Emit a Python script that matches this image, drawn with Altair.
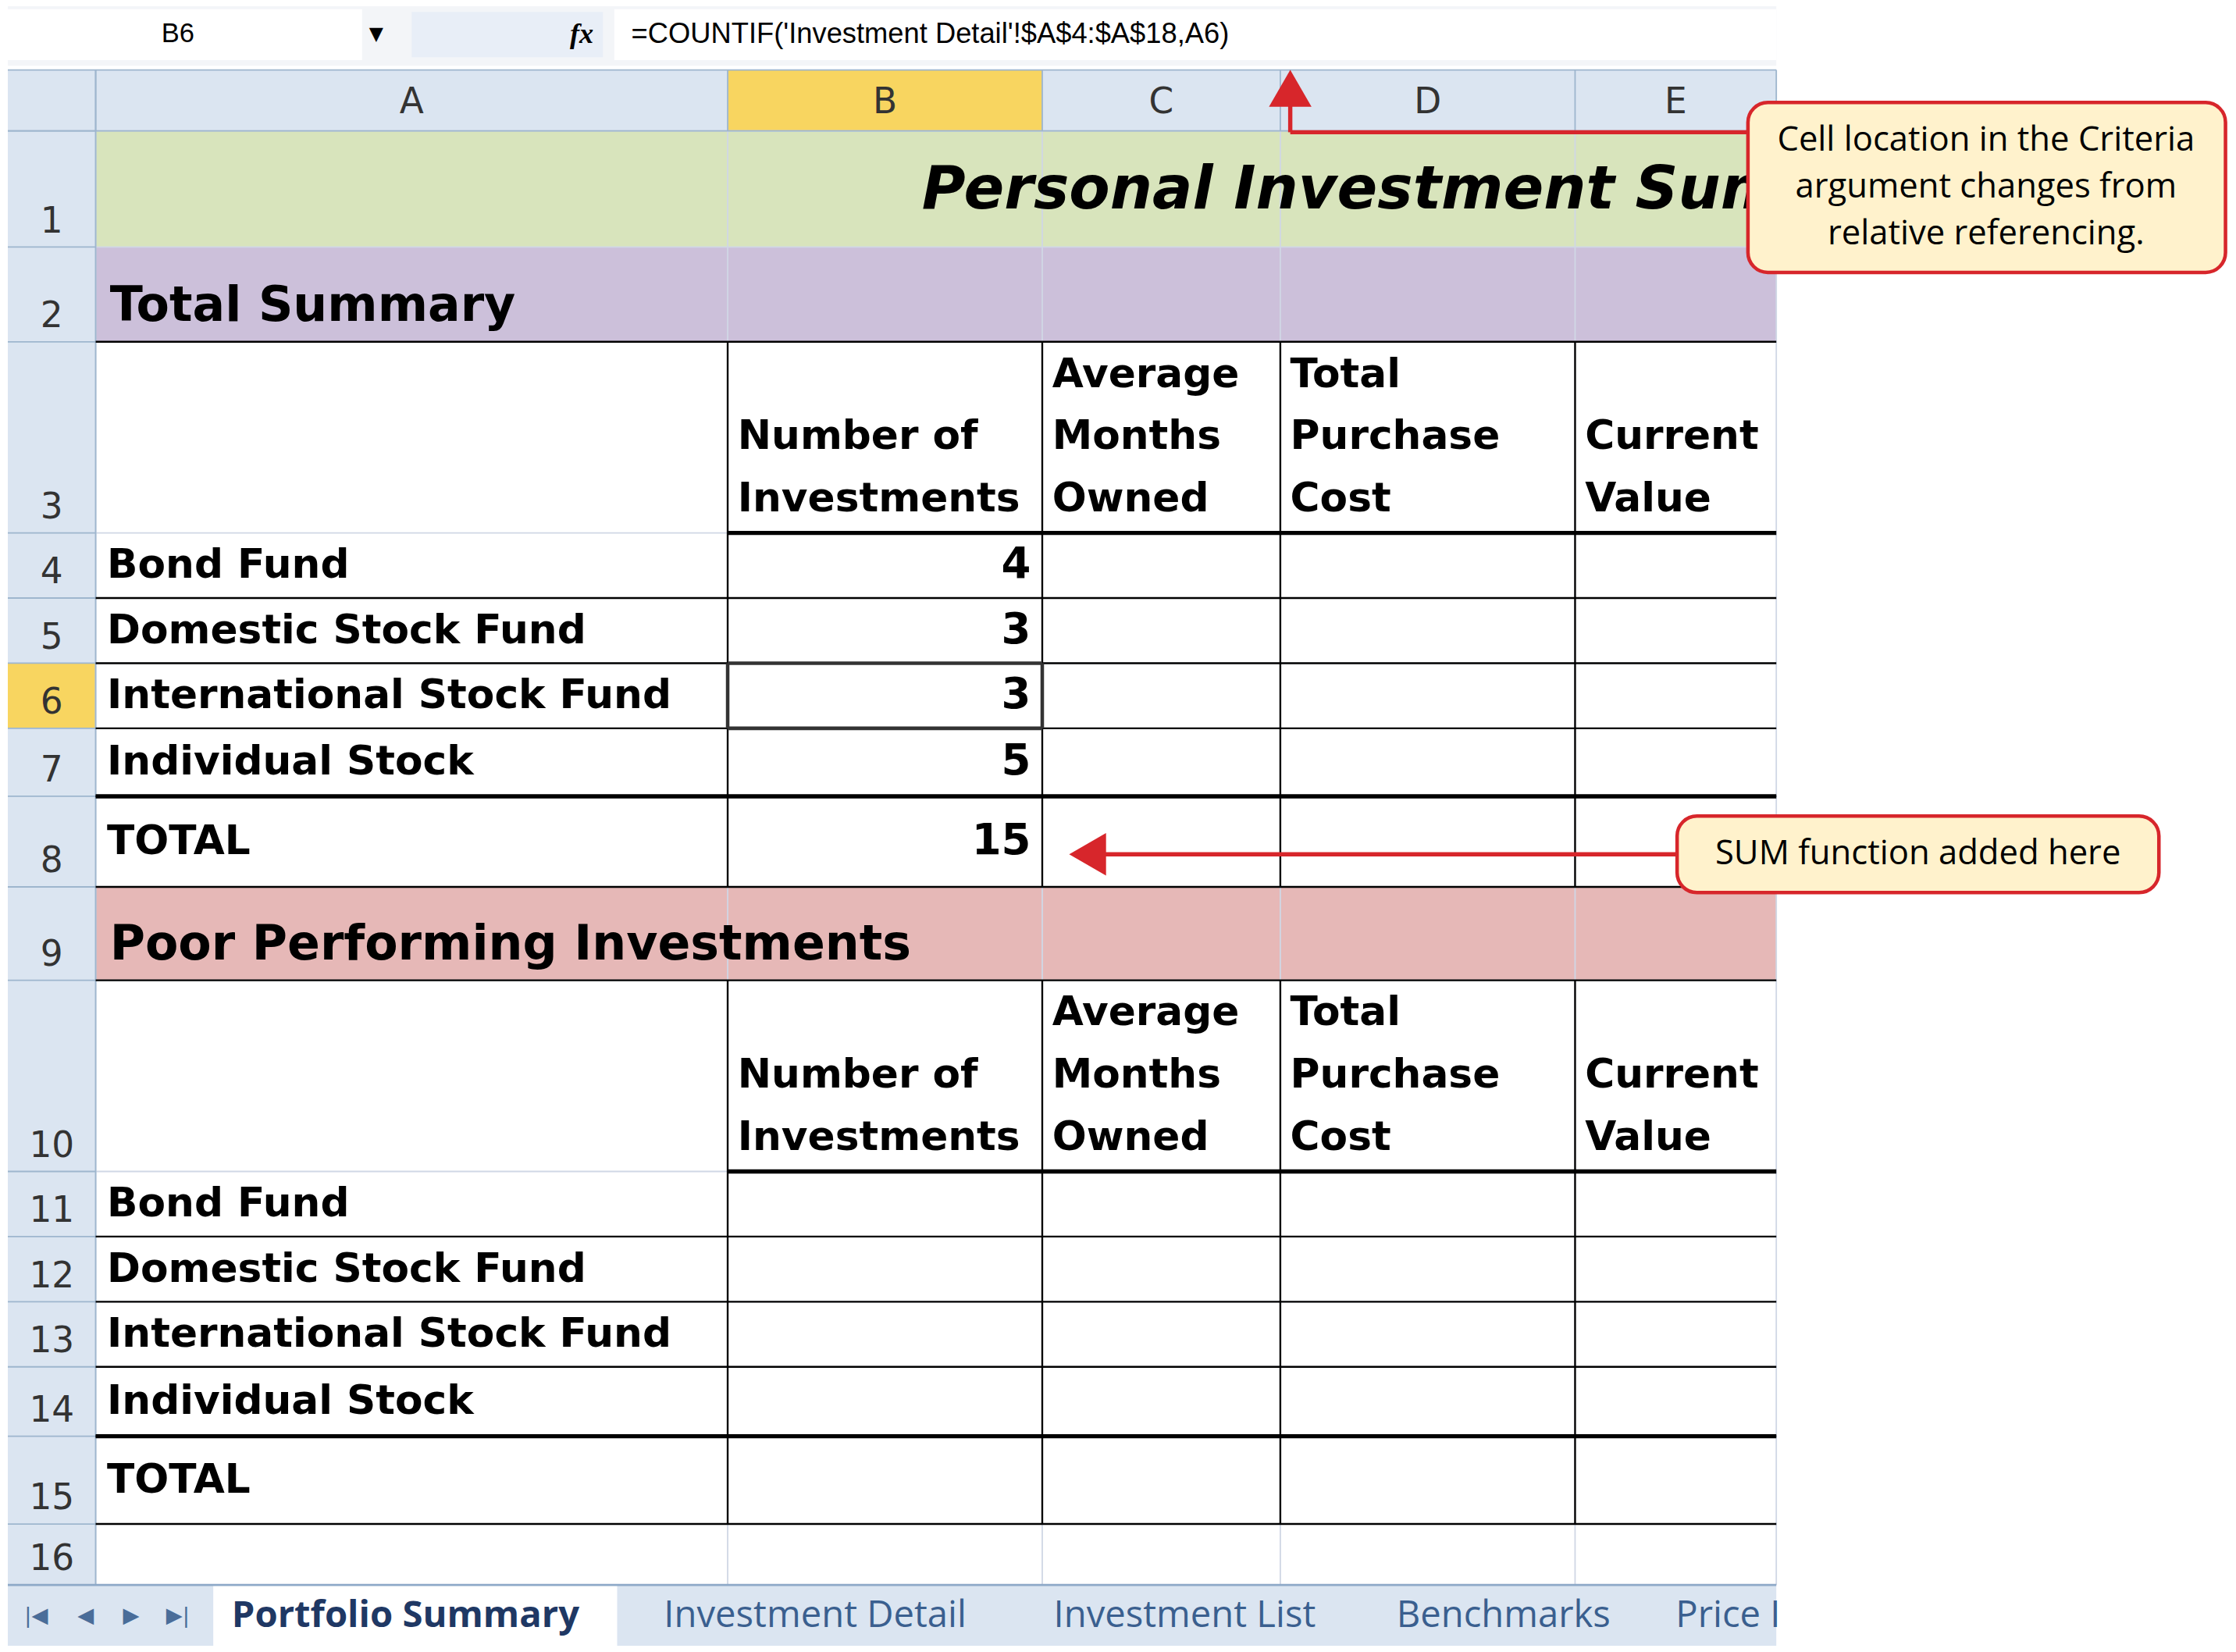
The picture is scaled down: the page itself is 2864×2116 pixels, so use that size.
import pandas as pd
import altair as alt

# reference is laid out on a 1568 x 1158 grid, drawn into 2848 x 2100
W, H = 1568, 1158
F = 2848 / W

col_letters = ["A", "B", "C", "D", "E"]
col_edges = [62, 508, 730, 898, 1106, 1248]
row_nums = list(range(1, 17))
row_edges = [88, 170, 237, 372, 418, 464, 510, 558, 622, 688, 823, 869, 915, 961, 1010, 1072, 1115]

categories = ["Bond Fund", "Domestic Stock Fund", "International Stock Fund", "Individual Stock"]
num_investments = [4, 3, 3, 5]
total_investments = 15
col_heads = {
    "B": ["Number of", "Investments"],
    "C": ["Average", "Months", "Owned"],
    "D": ["Total", "Purchase", "Cost"],
    "E": ["Current", "Value"],
}
tabs = ["Portfolio Summary", "Investment Detail", "Investment List", "Benchmarks", "Price I"]
tab_x = [158, 463, 738, 980, 1177]
formula = "=COUNTIF('Investment Detail'!$A$4:$A$18,A6)"
callout1 = ["Cell location in the Criteria", "argument changes from", "relative referencing."]
callout2 = "SUM function added here"

xs = alt.Scale(domain=[0, W], nice=False, zero=False)
ys = alt.Scale(domain=[H, 0], nice=False, zero=False)


def rects(rows, **kw):
    df = pd.DataFrame(rows, columns=["x", "x2", "y", "y2", "fill"])
    return alt.Chart(df).mark_rect(**kw).encode(
        x=alt.X("x:Q", scale=xs, axis=None), x2="x2:Q",
        y=alt.Y("y:Q", scale=ys, axis=None), y2="y2:Q",
        color=alt.Color("fill:N", scale=None))


def lines(rows, width, color):
    df = pd.DataFrame(rows, columns=["x", "x2", "y", "y2"])
    return alt.Chart(df).mark_rule(strokeWidth=width * F, color=color).encode(
        x=alt.X("x:Q", scale=xs, axis=None), x2="x2:Q",
        y=alt.Y("y:Q", scale=ys, axis=None), y2="y2:Q")


def texts(rows, size, font="DejaVu Sans", weight="normal", align="left", color="black", style="normal"):
    df = pd.DataFrame(rows, columns=["x", "y", "t"])
    return alt.Chart(df).mark_text(fontSize=size * F, font=font, fontWeight=weight, align=align,
                                   baseline="middle", color=color, fontStyle=style).encode(
        x=alt.X("x:Q", scale=xs, axis=None), y=alt.Y("y:Q", scale=ys, axis=None), text="t:N")


layers = []

# backgrounds
bg = [(0, W, 0, H, "white"),
      (0, 1248, 0, 42, "#f3f5f8"),
      (0, 1248, 45, 88, "#dbe5f1"),
      (0, 62, 45, 1115, "#dbe5f1"),
      (col_edges[1], col_edges[2], 45, 88, "#f8d560"),
      (0, 62, row_edges[5], row_edges[6], "#f8d560"),
      (62, 1248, row_edges[0], row_edges[1], "#d8e4bc"),
      (62, 1248, row_edges[1], row_edges[2], "#ccc0da"),
      (62, 1248, row_edges[8], row_edges[9], "#e6b8b7"),
      (0, 1248, 1115, 1158, "#dbe5f1"),
      (145, 430, 1115, 1158, "white"),
      (0, 250, 2, 38, "white"),
      (285, 420, 4, 36, "#e8eef7"),
      (428, 1248, 2, 38, "white")]
layers.append(rects(bg))

# light gridlines
grid_h = [(62, 1248, y, y) for y in row_edges]
grid_v = [(x, x, 88, 1115) for x in col_edges]
layers.append(lines(grid_h + grid_v, 1, "#d0d7e5"))
hdr = [(0, 1248, 45, 45), (0, 1248, 88, 88), (62, 62, 45, 1115)]
hdr += [(x, x, 45, 88) for x in col_edges]
hdr += [(0, 62, y, y) for y in row_edges]
layers.append(lines(hdr, 1, "#9eb6ce"))

# table borders
thin, thick = [], []
for top in (2, 9):
    t0 = row_edges[top]
    ends = row_edges[top + 6]
    for x in col_edges[1:5]:
        thin.append((x, x, t0, ends))
    for i in range(4):
        thin.append((62, 1248, row_edges[top + 2 + i], row_edges[top + 2 + i]))
    thick.append((508, 1248, row_edges[top + 1], row_edges[top + 1]))
    thick.append((62, 1248, row_edges[top + 5], row_edges[top + 5]))
    thin.append((62, 1248, ends, ends))
    thin.append((62, 1248, t0, t0))
layers.append(lines(thin, 1.3, "black"))
layers.append(lines(thick, 3, "black"))
# selected cell B6
layers.append(lines([(508, 730, 464, 464), (508, 730, 510, 510), (508, 508, 464, 510), (730, 730, 464, 510)], 2.5, "#333"))

# header letters and row numbers
layers.append(texts([((col_edges[i] + col_edges[i + 1]) / 2, 68, c) for i, c in enumerate(col_letters)],
                    25, align="center", color="#333"))
layers.append(texts([(31, row_edges[i + 1] - 18, str(n)) for i, n in enumerate(row_nums)],
                    25, align="center", color="#333"))

# title and section headers
layers.append(texts([(645, 130, "Personal Investment Summary")], 42, weight="bold", style="italic"))
layers.append(texts([(72, 212, "Total Summary"), (72, 663, "Poor Performing Investments")], 34, weight="bold"))

body = []
for top in (2, 9):
    hb = row_edges[top + 1]
    for i, key in enumerate(["B", "C", "D", "E"]):
        ln = col_heads[key]
        for j, s in enumerate(ln):
            body.append((col_edges[i + 1] + 7, hb + 44 * (j - len(ln)) + 20, s))
    for i, c in enumerate(categories):
        body.append((70, (row_edges[top + 1 + i] + row_edges[top + 2 + i]) / 2, c))
    body.append((70, (row_edges[top + 5] + row_edges[top + 6]) / 2, "TOTAL"))
layers.append(texts(body, 28.5, weight="bold"))
nums = [(722, (row_edges[3 + i] + row_edges[4 + i]) / 2, str(v)) for i, v in enumerate(num_investments)]
nums.append((722, (row_edges[7] + row_edges[8]) / 2, str(total_investments)))
layers.append(texts(nums, 30, weight="bold", align="right"))

# formula bar
layers.append(texts([(120, 20, "B6")], 19, font="Liberation Sans", align="center"))
layers.append(texts([(260, 20, "▼")], 13, align="center"))
layers.append(texts([(405, 20, "fx")], 20, font="Liberation Serif", style="italic", weight="bold", align="center"))
layers.append(texts([(440, 20, formula)], 20, font="Liberation Sans"))

# tabs
layers.append(lines([(0, 1248, 1115, 1115)], 1.5, "#8ea9c8"))
layers.append(texts([(tab_x[0], 1137, tabs[0])], 26, font="Open Sans", weight="bold", color="#1f3864"))
layers.append(texts([(x, 1137, t) for x, t in zip(tab_x[1:], tabs[1:])], 26, font="Open Sans", color="#3a5f8f"))
layers.append(texts([(20, 1137, "|◀"), (55, 1137, "◀"), (87, 1137, "▶"), (120, 1137, "▶|")], 15,
                    align="center", color="#4a6d99"))

# arrows
red = "#d7262b"
layers.append(lines([(905, 1228, 89, 89), (905, 905, 60, 89), (770, 1178, 599, 599)], 3, red))
arr = pd.DataFrame({"x": [905, 762], "y": [58, 599], "s": ["triangle-up", "triangle-left"]})
layers.append(alt.Chart(arr).mark_point(filled=True, opacity=1, color=red, size=900 * F * F).encode(
    x=alt.X("x:Q", scale=xs, axis=None), y=alt.Y("y:Q", scale=ys, axis=None),
    shape=alt.Shape("s:N", scale=None)))

# callouts
layers.append(rects([(1228, 1565, 68, 188, "#fff2cc"), (1178, 1518, 572, 626, "#fff2cc")],
                    stroke=red, strokeWidth=2.5 * F, cornerRadius=14 * F))
layers.append(texts([(1396, 95 + 33 * i, s) for i, s in enumerate(callout1)], 24, font="Open Sans", align="center"))
layers.append(texts([(1348, 599, callout2)], 24, font="Open Sans", align="center"))

chart = alt.layer(*layers).properties(
    width=2848, height=2100, padding=0,
    autosize=alt.AutoSizeParams(type="fit", contains="padding"),
).configure_view(stroke=None)

chart.save("out.html", embed_options={"renderer": "svg", "actions": False})
